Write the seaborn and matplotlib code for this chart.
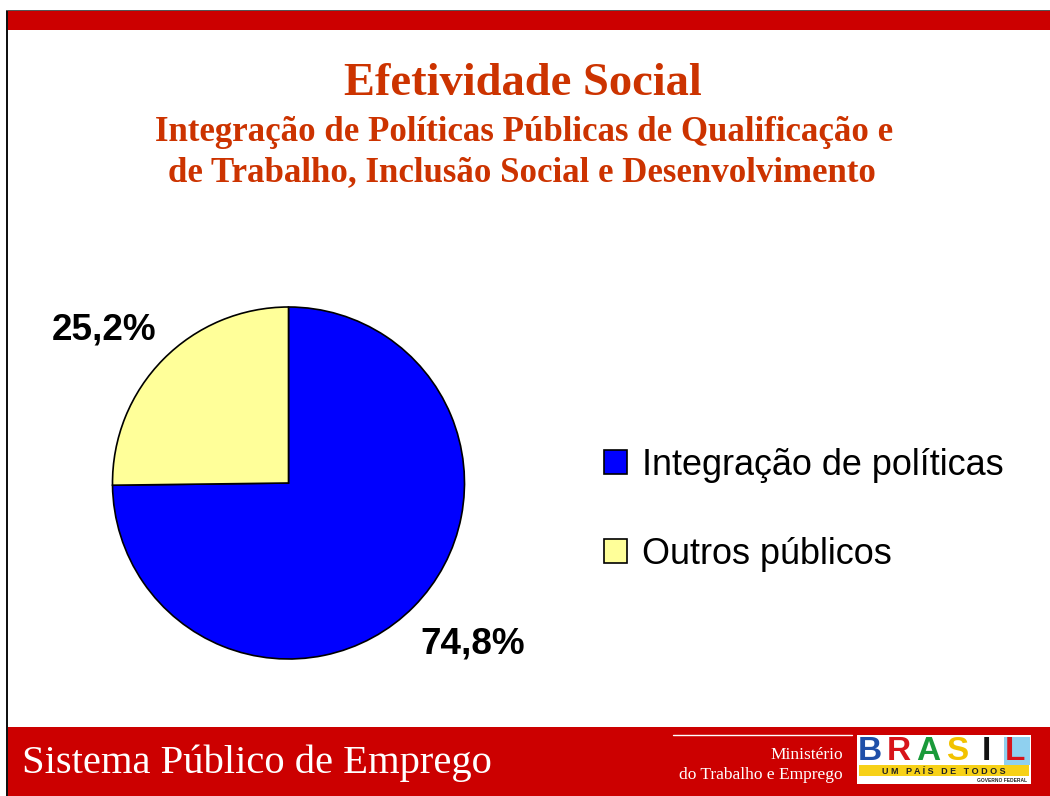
import numpy as np
import seaborn as sns
import matplotlib.pyplot as plt
from matplotlib.patches import Rectangle

# dados do gráfico
categorias = ['Integração de políticas', 'Outros públicos']
valores = [74.8, 25.2]
rotulos = ['74,8%', '25,2%']
cores = ['#0000FF', '#FFFF99']

titulo = 'Efetividade Social'
subtitulo = ['Integração de Políticas Públicas de Qualificação e',
             'de Trabalho, Inclusão Social e Desenvolvimento']
rodape = 'Sistema Público de Emprego'
ministerio = ['Ministério', 'do Trabalho e Emprego']

sns.set_theme(style='white')
plt.rcParams['font.family'] = ['Liberation Sans', 'DejaVu Sans']
plt.rcParams['text.color'] = 'black'

W, H = 1050, 796
fig = plt.figure(figsize=(W / 100, H / 100), dpi=100)

# fundo do slide em pixels
bg = fig.add_axes([0, 0, 1, 1])
bg.set_xlim(0, W)
bg.set_ylim(H, 0)
bg.axis('off')

vermelho = '#CC0000'
bg.add_patch(Rectangle((6, 9.5), W, 1.5, color='#555555', lw=0))
bg.add_patch(Rectangle((8, 11), W, 19, color=vermelho, lw=0))
bg.add_patch(Rectangle((6, 11), 1.6, H, color='#111111', lw=0))
bg.add_patch(Rectangle((8, 727), W, 70, color=vermelho, lw=0))
bg.plot([673, 852], [735, 735], color='white', lw=1)

laranja = '#CC3300'
bg.text(523, 95, titulo, ha='center', va='baseline', color=laranja,
        family='Liberation Serif', fontweight='bold', fontsize=33.5)
bg.text(524, 141, subtitulo[0], ha='center', va='baseline', color=laranja,
        family='Liberation Serif', fontweight='bold', fontsize=25.1)
bg.text(522, 181, subtitulo[1], ha='center', va='baseline', color=laranja,
        family='Liberation Serif', fontweight='bold', fontsize=25.1)

bg.text(22, 773, rodape, ha='left', va='baseline', color='white',
        family='Liberation Serif', fontsize=29.25)
bg.text(843, 759, ministerio[0], ha='right', va='baseline', color='white',
        family='Liberation Serif', fontsize=12.5)
bg.text(843, 779, ministerio[1], ha='right', va='baseline', color='white',
        family='Liberation Serif', fontsize=12.5)

# logotipo aproximado
bg.add_patch(Rectangle((857, 735), 174, 49, color='white', lw=0))
bg.add_patch(Rectangle((1004, 737), 26, 28, color='#8fd0ef', lw=0))
letras = ['B', 'R', 'A', 'S', 'I', 'L']
cores_logo = ['#1f4fa8', '#d7141a', '#1a9a3a', '#f2c200', '#111111', '#d7141a']
for i, (l, c) in enumerate(zip(letras, cores_logo)):
    bg.text(870 + i * 29, 752, l, ha='center', va='center', color=c,
            fontweight='heavy', fontsize=24)
bg.add_patch(Rectangle((859, 765), 170, 11, color='#f7d117', lw=0))
bg.text(944, 771, 'U M   P A Í S   D E   T O D O S', ha='center', va='center',
        fontsize=6.5, fontweight='bold', color='#222222')
bg.text(1027, 781, 'GOVERNO FEDERAL', ha='right', va='center',
        fontsize=3.5, fontweight='bold', color='#222222')

# pizza
cx, cy, r = 288.5, 483, 176
ax = fig.add_axes([(cx - r) / W, (H - cy - r) / H, 2 * r / W, 2 * r / H])
wedges, _ = ax.pie(valores, colors=cores, startangle=90, counterclock=False,
                   wedgeprops=dict(edgecolor='black', linewidth=1.2))
ax.set_xlim(-1, 1)
ax.set_ylim(-1, 1)
ax.set_aspect('equal')
ax.axis('off')

for w, txt in zip(wedges, rotulos):
    ang = np.deg2rad((w.theta1 + w.theta2) / 2 + 4.3)
    ax.text(1.375 * np.cos(ang), 1.375 * np.sin(ang), txt, ha='center',
            va='center_baseline', fontsize=26.6, fontweight='bold', color='black')

leg = bg.legend(wedges, categorias, loc='center left', bbox_to_anchor=(603.5, 510),
                bbox_transform=bg.transData, frameon=False, fontsize=25.9,
                handlelength=0.64, handleheight=0.64, handletextpad=0.42,
                labelspacing=1.5, borderpad=0, borderaxespad=0,
                labelcolor='black')
for h in leg.legend_handles:
    h.set_linewidth(1.2)
    h.set_edgecolor('black')

fig.savefig('out.png', dpi=100)
